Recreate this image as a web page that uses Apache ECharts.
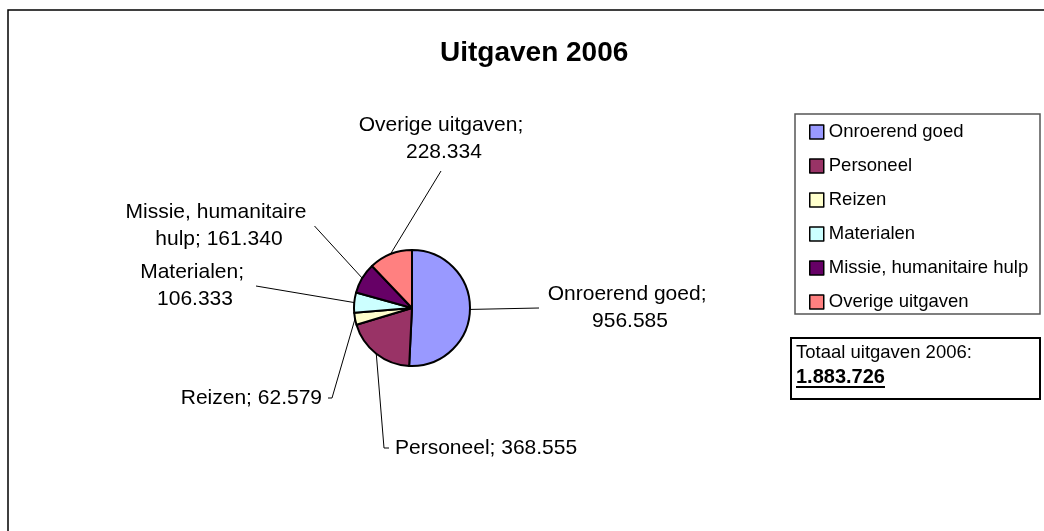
<!DOCTYPE html>
<html>
<head>
<meta charset="utf-8">
<title>Uitgaven 2006</title>
<script src="https://cdn.jsdelivr.net/npm/echarts@6/dist/echarts.min.js"></script>
<style>
  html, body { margin: 0; padding: 0; background: #fff; }
  #main { width: 1044px; height: 531px; }
</style>
</head>
<body>
<div id="main"></div>
<script>
// gegevens
var categories = ['Onroerend goed', 'Personeel', 'Reizen', 'Materialen', 'Missie, humanitaire hulp', 'Overige uitgaven'];
var amounts = [956585, 368555, 62579, 106333, 161340, 228334];
var colors = ['#9999ff', '#993366', '#ffffcc', '#ccffff', '#660066', '#ff8080'];

// plaats van de labels (geen data)
var labelAt = [[630, 308], [395, 448], [322, 398], [195, 286], [216, 226], [441, 139]];
var labelAlign = ['center', 'left', 'right', 'center', 'center', 'center'];
var labelWrap = [170, 0, 0, 110, 185, 170];
var lineSide = ['left', 'left', 'right', 'right', 'right', 'bottom'];
var lineHook = [0, 5, 4, 0, 0, 0];

var font = '"Liberation Sans", Arial, Helvetica, sans-serif';

function fmt(v) {
	return String(v).replace(/\B(?=(\d{3})+(?!\d))/g, '.'); // 1.883.726
}

var total = amounts.reduce(function (a, b) { return a + b; }, 0);
var totalText = fmt(total);

// breedte van het totaal meten voor de onderstreping
var ctx = document.createElement('canvas').getContext('2d');
ctx.font = 'bold 20px "Liberation Sans"';
var totalWidth = ctx.measureText(totalText).width;

var pieData = categories.map(function (name, i) {
	var item = { name: name, value: amounts[i], itemStyle: { color: colors[i] } };
	if (labelWrap[i]) item.label = { width: labelWrap[i], overflow: 'break' };
	return item;
});

var myChart = echarts.init(document.getElementById('main'));

var option = {
	animation: false,
	backgroundColor: '#fff',
	title: {
		text: 'Uitgaven 2006',
		left: 440,
		top: 39,
		padding: 0,
		textStyle: { fontFamily: font, fontSize: 28, fontWeight: 'bold', color: '#000' }
	},
	legend: {
		orient: 'vertical',
		left: 809,
		top: 122,
		padding: 0,
		itemWidth: 14,
		itemHeight: 14,
		itemGap: 14,
		icon: 'rect',
		selectedMode: false,
		itemStyle: { borderColor: '#000', borderWidth: 1.5 },
		textStyle: { fontFamily: font, fontSize: 18.5, color: '#000', lineHeight: 20 },
		data: categories
	},
	graphic: [
		{ type: 'rect', silent: true, z: -1, shape: { x: 8, y: 10, width: 1100, height: 600 },
		  style: { fill: 'none', stroke: '#000', lineWidth: 1.5 } },
		{ type: 'rect', silent: true, shape: { x: 795, y: 114, width: 245, height: 200 },
		  style: { fill: 'none', stroke: '#555', lineWidth: 1.5 } },
		{ type: 'rect', silent: true, shape: { x: 791, y: 338, width: 249, height: 61 },
		  style: { fill: 'none', stroke: '#000', lineWidth: 2 } },
		{ type: 'text', silent: true, x: 796, y: 353,
		  style: { text: 'Totaal uitgaven 2006:', font: '18.5px ' + font, fill: '#000', verticalAlign: 'middle' } },
		{ type: 'text', silent: true, x: 796, y: 377,
		  style: { text: totalText, font: 'bold 20px ' + font, fill: '#000', verticalAlign: 'middle' } },
		{ type: 'rect', silent: true, shape: { x: 796, y: 386, width: totalWidth, height: 2 },
		  style: { fill: '#000' } }
	],
	series: [{
		type: 'pie',
		center: [412, 308],
		radius: 58,
		startAngle: 90,
		clockwise: true,
		avoidLabelOverlap: false,
		itemStyle: { borderColor: '#000', borderWidth: 2 },
		emphasis: { disabled: true },
		label: {
			show: true,
			position: 'outside',
			fontFamily: font,
			fontSize: 21,
			lineHeight: 27,
			color: '#000',
			formatter: function (p) { return p.name + '; ' + fmt(p.value); }
		},
		labelLine: { show: true, lineStyle: { color: '#000', width: 1 } },
		labelLayout: function (p) {
			var i = p.dataIndex;
			var x = labelAt[i][0], y = labelAt[i][1];
			var w = p.labelRect.width, h = p.labelRect.height;
			var left = labelAlign[i] === 'left' ? x : (labelAlign[i] === 'right' ? x - w : x - w / 2);
			var top = y - h / 2;
			var end, hook;
			if (lineSide[i] === 'left') { end = [left - 6, y]; hook = [left - 6 - lineHook[i], y]; }
			else if (lineSide[i] === 'right') { end = [left + w + 6, y]; hook = [left + w + 6 + lineHook[i], y]; }
			else { end = [x, top + h + 5]; hook = end; }
			var start = p.labelLinePoints ? p.labelLinePoints[0] : end;
			return {
				x: x, y: y,
				align: labelAlign[i],
				verticalAlign: 'middle',
				labelLinePoints: [start, hook, end]
			};
		},
		data: pieData
	}]
};

myChart.setOption(option);
</script>
</body>
</html>
